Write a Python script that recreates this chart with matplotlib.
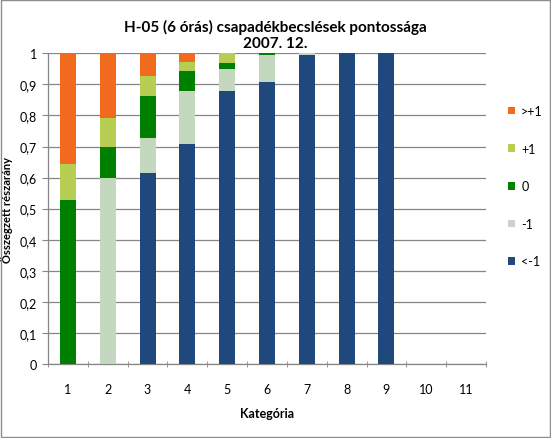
import matplotlib
matplotlib.use("Agg")
import matplotlib.pyplot as plt
from matplotlib.patches import Rectangle
import numpy as np

plt.rcParams['font.family'] = ['Lato', 'DejaVu Sans']

categories = ['1', '2', '3', '4', '5', '6', '7', '8', '9', '10', '11']
series_names = ['<-1', '-1', '0', '+1', '>+1']
# segment sizes
s_lt_m1 = [0.0, 0.0, 0.615, 0.709, 0.880, 0.909, 0.994, 1.0, 1.0, 0.0, 0.0]
s_m1    = [0.0, 0.600, 0.113, 0.171, 0.068, 0.087, 0.006, 0.0, 0.0, 0.0, 0.0]
s_0     = [0.528, 0.100, 0.134, 0.062, 0.020, 0.004, 0.0, 0.0, 0.0, 0.0, 0.0]
s_p1    = [0.117, 0.093, 0.065, 0.029, 0.032, 0.0, 0.0, 0.0, 0.0, 0.0, 0.0]
s_gt_p1 = [0.355, 0.207, 0.073, 0.029, 0.0, 0.0, 0.0, 0.0, 0.0, 0.0, 0.0]
colors = ['#1F497D', '#C4D7BF', '#008000', '#B6CF52', '#F26A1E']
yticks = [0, 0.1, 0.2, 0.3, 0.4, 0.5, 0.6, 0.7, 0.8, 0.9, 1.0]
ytick_labels = ['0', '0,1', '0,2', '0,3', '0,4', '0,5', '0,6', '0,7', '0,8', '0,9', '1']

fig = plt.figure(figsize=(5.51, 4.39), dpi=100)
fig.patches.append(Rectangle((0.002, 0.002), 0.996, 0.996, transform=fig.transFigure,
                             fill=False, edgecolor='#8C8C8C', linewidth=1.0))
ax = fig.add_axes([48/551, 1-365/439, (486-48)/551, (365-54.3)/439])

x = np.arange(1, len(categories) + 1)
bottom = np.zeros(len(categories))
handles = []
for name, vals, c in zip(series_names, [s_lt_m1, s_m1, s_0, s_p1, s_gt_p1], colors):
    h = ax.bar(x, vals, width=0.4, bottom=bottom, color=c, label=name, zorder=3)
    handles.append(h)
    bottom += np.array(vals)

ax.set_xlim(0.5, len(categories) + 0.5)
ax.set_ylim(0, 1)
ax.set_yticks(yticks)
ax.set_yticklabels(ytick_labels, fontsize=9)
ax.set_xticks(x)
ax.set_xticklabels(categories, fontsize=9)
ax.set_xticks(np.arange(0.5, len(categories) + 1, 1), minor=True)
ax.tick_params(axis='x', which='major', length=0, pad=14)
ax.tick_params(axis='x', which='minor', length=4, direction='inout', color='#868686')
ax.tick_params(axis='y', length=4, direction='out', color='#868686', pad=4)
ax.grid(axis='y', color='#868686', linewidth=0.9, zorder=0)
for s in ['top', 'right']:
    ax.spines[s].set_visible(False)
for s in ['left', 'bottom']:
    ax.spines[s].set_color('#868686')
    ax.spines[s].set_linewidth(0.9)

ax.set_xlabel('Kategória', fontsize=9, fontweight='bold', labelpad=8)
ax.set_ylabel('Összegzett részarány', fontsize=8, fontweight='bold', labelpad=5)

fig.text(275/551, 1-27/439, 'H-05 (6 órás) csapadékbecslések pontossága', ha='center', va='center',
         fontsize=11, fontweight='bold')
fig.text(275/551, 1-44/439, '2007. 12.', ha='center', va='center', fontsize=11, fontweight='bold')

leg = fig.legend(handles[::-1], series_names[::-1], loc='upper left',
                 bbox_to_anchor=(503/551, 1-101/439), frameon=False, fontsize=9,
                 handlelength=0.55, handleheight=0.55, labelspacing=2.05, handletextpad=0.5,
                 borderaxespad=0)

fig.savefig('out.png', dpi=100)
